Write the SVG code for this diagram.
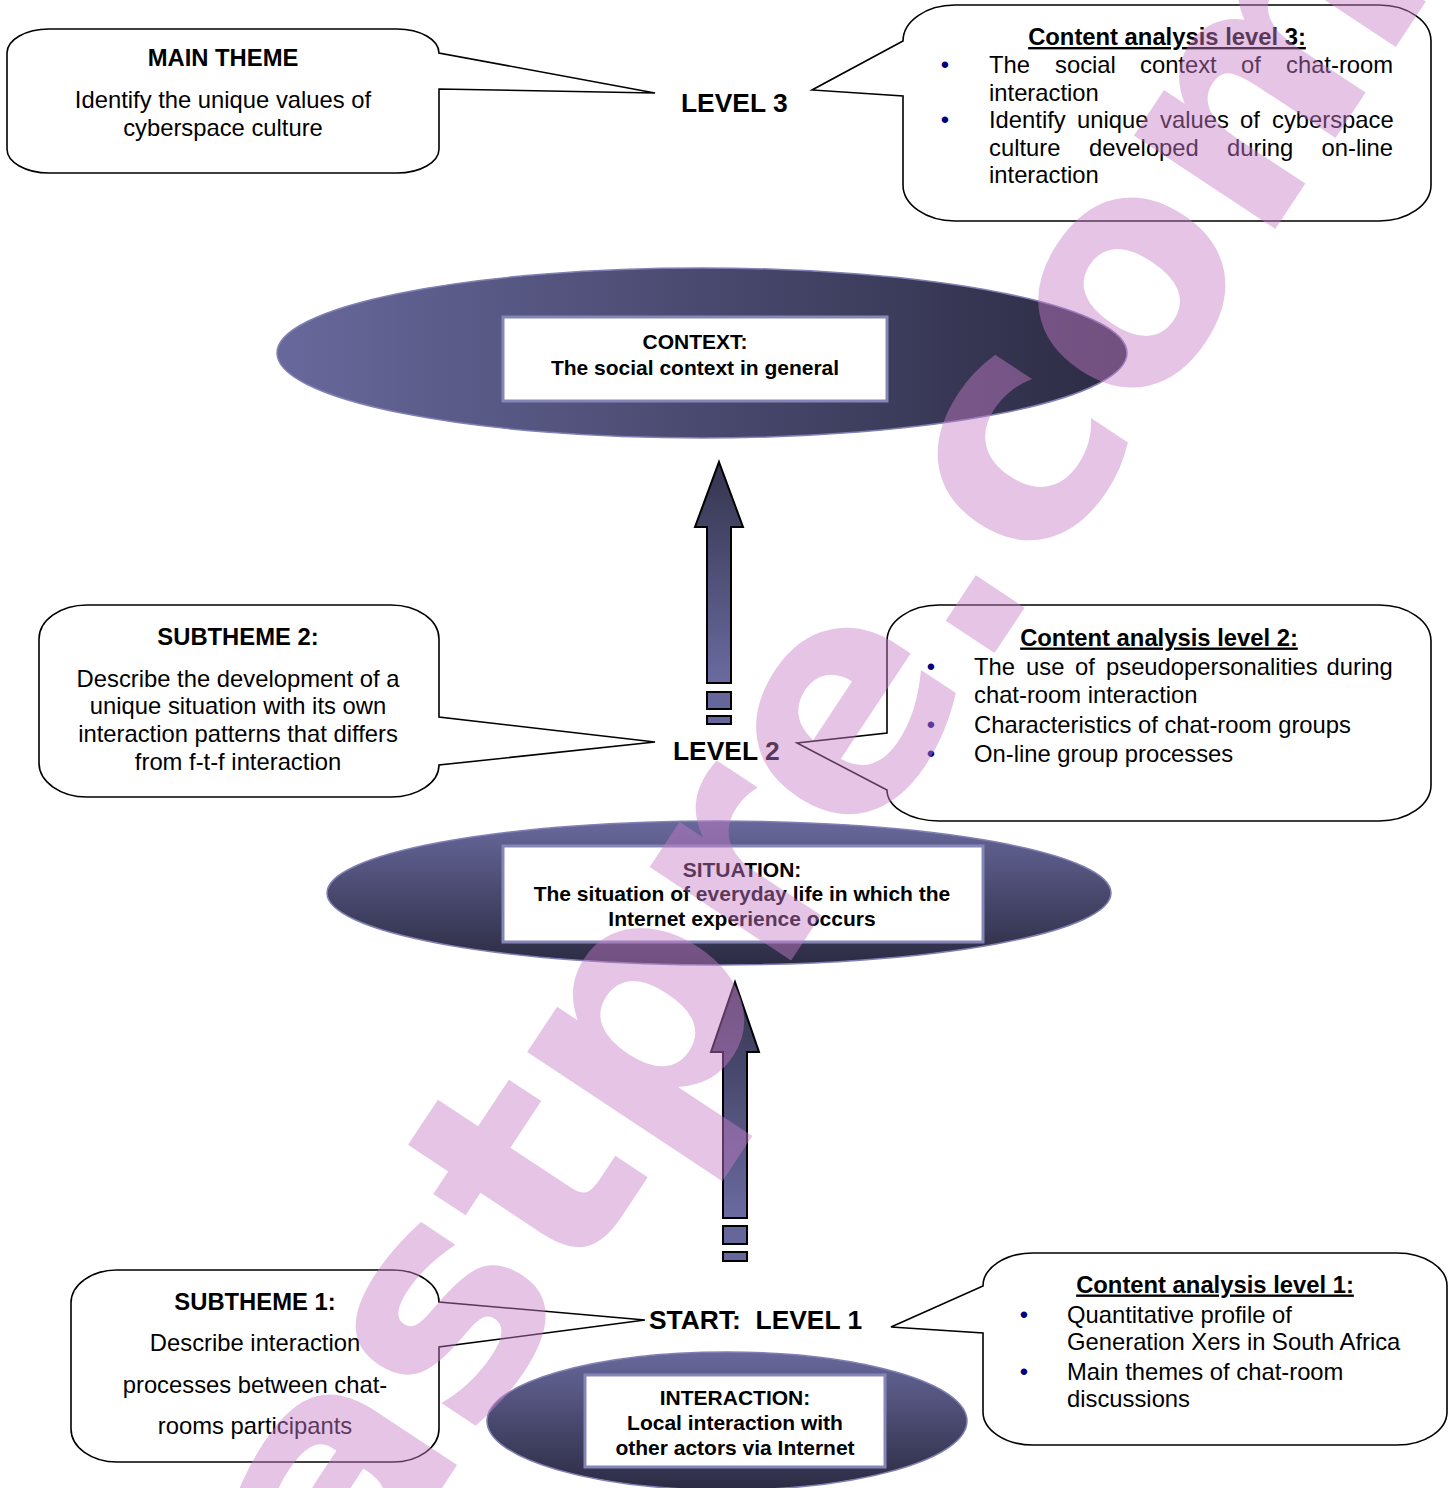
<svg xmlns="http://www.w3.org/2000/svg" width="1456" height="1488" viewBox="0 0 1456 1488">
<defs>
<linearGradient id="gH" x1="0" y1="0" x2="1" y2="0"><stop offset="0" stop-color="#68689c"/><stop offset="1" stop-color="#2b2b43"/></linearGradient>
<linearGradient id="gV" x1="0" y1="0" x2="0" y2="1"><stop offset="0" stop-color="#68689c"/><stop offset="1" stop-color="#2b2b43"/></linearGradient>
<linearGradient id="gA" x1="0" y1="0" x2="0" y2="1"><stop offset="0" stop-color="#34344e"/><stop offset="1" stop-color="#6a6aa0"/></linearGradient>
<style>
.co{fill:#fff;stroke:#000;stroke-width:1.6}
.el{stroke:#8080b4;stroke-width:1.5}
.bx{fill:#fff;stroke:#8585b8;stroke-width:3}
.ar{fill:url(#gA);stroke:#000;stroke-width:2}
.ds{fill:#66669a;stroke:#000;stroke-width:2}
text{font-family:"Liberation Sans",Arial,sans-serif;fill:#000}
.t{font-size:23.8px}
.b{font-weight:bold}
.c{text-anchor:middle}
.u{text-decoration:underline}
.lv{font-size:26.4px;font-weight:bold}
.e{font-size:21px;font-weight:bold;text-anchor:middle}
.bl{fill:#000080;font-size:23.8px;text-anchor:middle}
</style>
</defs>

<g id="connectors">
<polygon class="ar" points="719,462 743,527 731,527 731,683 707,683 707,527 695,527"/>
<rect class="ds" x="707" y="692" width="24" height="17"/>
<rect class="ds" x="707" y="716" width="24" height="8"/>
<polygon class="ar" points="735,982 759,1052 747,1052 747,1218 723,1218 723,1052 711,1052"/>
<rect class="ds" x="723" y="1226" width="24" height="18"/>
<rect class="ds" x="723" y="1252" width="24" height="9"/>
</g>

<g id="main-theme">
<path class="co" d="M49,29 H397 A42,24 0 0 1 439,53 L655,93 L439,89 V149 A42,24 0 0 1 397,173 H49 A42,24 0 0 1 7,149 V53 A42,24 0 0 1 49,29 Z"/>
<text class="t b c" x="223" y="66">MAIN THEME</text>
<text class="t c" x="223" y="108">Identify the unique values of</text>
<text class="t c" x="223" y="136">cyberspace culture</text>
</g>

<g id="level3">
<text class="lv" x="681" y="112">LEVEL 3</text>
</g>

<g id="content-level3">
<path class="co" d="M955,5 H1379 A52,36 0 0 1 1431,41 V185 A52,36 0 0 1 1379,221 H955 A52,36 0 0 1 903,185 V96 L812,90 L903,41 A52,36 0 0 1 955,5 Z"/>
<text class="t b c u" x="1167" y="45">Content analysis level 3:</text>
<text class="bl" x="945" y="73">•</text>
<text class="t" y="73"><tspan x="989">The</tspan><tspan x="1055">social</tspan><tspan x="1140">context</tspan><tspan x="1241">of</tspan><tspan x="1286">chat-room</tspan></text>
<text class="t" x="989" y="101">interaction</text>
<text class="bl" x="945" y="128">•</text>
<text class="t" y="128"><tspan x="989">Identify</tspan><tspan x="1077">unique</tspan><tspan x="1160">values</tspan><tspan x="1240">of</tspan><tspan x="1272">cyberspace</tspan></text>
<text class="t" y="156"><tspan x="989">culture</tspan><tspan x="1089">developed</tspan><tspan x="1227">during</tspan><tspan x="1321.5">on-line</tspan></text>
<text class="t" x="989" y="183">interaction</text>
</g>

<g id="context">
<ellipse class="el" cx="702" cy="353" rx="425" ry="85" fill="url(#gH)"/>
<rect class="bx" x="503" y="317" width="384" height="84"/>
<text class="e" x="695" y="348.5">CONTEXT:</text>
<text class="e" x="695" y="374.5">The social context in general</text>
</g>

<g id="subtheme2">
<path class="co" d="M87,605 H391 A48,34 0 0 1 439,639 V717 L655,742 L439,765 A48,32 0 0 1 391,797 H87 A48,34 0 0 1 39,763 V639 A48,34 0 0 1 87,605 Z"/>
<text class="t b c" x="238" y="644.5">SUBTHEME 2:</text>
<text class="t c" x="238" y="686.5">Describe the development of a</text>
<text class="t c" x="238" y="713.5">unique situation with its own</text>
<text class="t c" x="238" y="741.5">interaction patterns that differs</text>
<text class="t c" x="238" y="769.5">from f-t-f interaction</text>
</g>

<g id="level2">
<text class="lv" x="673" y="759.5">LEVEL 2</text>
</g>

<g id="content-level2">
<path class="co" d="M939,605 H1379 A52,36 0 0 1 1431,641 V785 A52,36 0 0 1 1379,821 H939 A52,31 0 0 1 887,790 L797,743 L887,733 V641 A52,36 0 0 1 939,605 Z"/>
<text class="t b c u" x="1159" y="645.5">Content analysis level 2:</text>
<text class="bl" x="931" y="674.5">•</text>
<text class="t" y="674.5"><tspan x="974">The</tspan><tspan x="1026">use</tspan><tspan x="1075">of</tspan><tspan x="1106">pseudopersonalities</tspan><tspan x="1326.5">during</tspan></text>
<text class="t" x="974" y="702.5">chat-room interaction</text>
<text class="bl" x="931" y="732.5">•</text>
<text class="t" x="974" y="732.5">Characteristics of chat-room groups</text>
<text class="bl" x="931" y="761.5">•</text>
<text class="t" x="974" y="761.5">On-line group processes</text>
</g>

<g id="situation">
<ellipse class="el" cx="719" cy="893" rx="392" ry="72" fill="url(#gV)"/>
<rect class="bx" x="503" y="846" width="480" height="96"/>
<text class="e" x="742" y="876.5">SITUATION:</text>
<text class="e" x="742" y="900.5">The situation of everyday life in which the</text>
<text class="e" x="742" y="925.5">Internet experience occurs</text>
</g>

<g id="subtheme1">
<path class="co" d="M117,1270 H393 A46,32 0 0 1 439,1302 L645,1320 L439,1347 V1429 A46,33 0 0 1 393,1462 H117 A46,33 0 0 1 71,1429 V1303 A46,33 0 0 1 117,1270 Z"/>
<text class="t b c" x="255" y="1309.5">SUBTHEME 1:</text>
<text class="t c" x="255" y="1350.5">Describe interaction</text>
<text class="t c" x="255" y="1392.5">processes between chat-</text>
<text class="t c" x="255" y="1433.5">rooms participants</text>
</g>

<g id="level1">
<text class="lv" x="649" y="1328.5" xml:space="preserve">START:  LEVEL 1</text>
</g>

<g id="content-level1">
<path class="co" d="M1033,1253 H1397 A50,33 0 0 1 1447,1286 V1412 A50,33 0 0 1 1397,1445 H1033 A50,33 0 0 1 983,1412 V1333 L891,1327 L983,1286 A50,33 0 0 1 1033,1253 Z"/>
<text class="t b c u" x="1215" y="1292.5">Content analysis level 1:</text>
<text class="bl" x="1024" y="1322.5">•</text>
<text class="t" x="1067" y="1322.5">Quantitative profile of</text>
<text class="t" x="1067" y="1349.5">Generation Xers in South Africa</text>
<text class="bl" x="1024" y="1379.5">•</text>
<text class="t" x="1067" y="1379.5">Main themes of chat-room</text>
<text class="t" x="1067" y="1406.5">discussions</text>
</g>

<g id="interaction">
<ellipse class="el" cx="727" cy="1421" rx="240" ry="69" fill="url(#gV)"/>
<rect class="bx" x="585" y="1375" width="300" height="92"/>
<text class="e" x="735" y="1404.5">INTERACTION:</text>
<text class="e" x="735" y="1429.5">Local interaction with</text>
<text class="e" x="735" y="1454.5">other actors via Internet</text>
</g>

<g id="watermark">
<text x="298" y="1584" transform="rotate(-2.5 1133 293) rotate(-54 298 1584)" style="font-family:'DejaVu Sans',sans-serif;font-weight:bold;font-size:310px;fill:#c87dc8;opacity:0.45">astpre.com</text>
</g>
</svg>
